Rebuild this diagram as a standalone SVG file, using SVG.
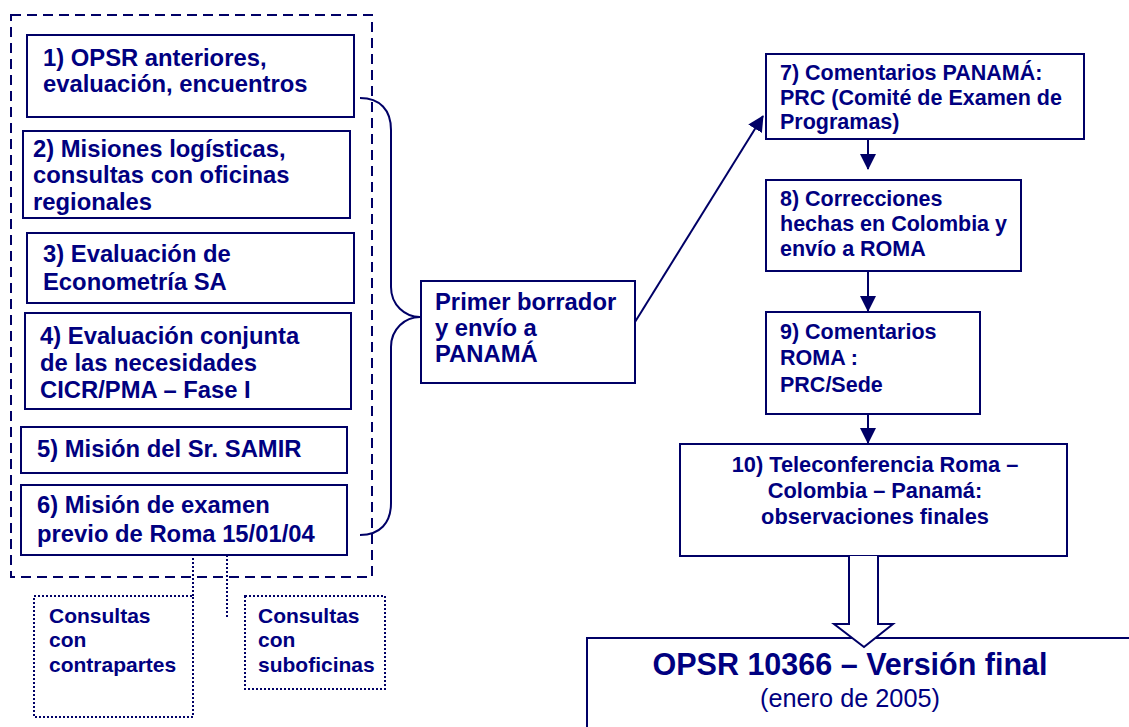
<svg xmlns="http://www.w3.org/2000/svg" width="1129" height="727" viewBox="0 0 1129 727">
<style>
.box{fill:#fff;stroke:#000066;stroke-width:2}
.dot{fill:none;stroke:#000066;stroke-width:2;stroke-dasharray:2 2}
.ln{fill:none;stroke:#000066;stroke-width:2}
text{font-family:"Liberation Sans",Arial,sans-serif;font-weight:bold;fill:#000080}
.l{font-size:23.8px}
.r{font-size:21.5px}
.t{font-size:21.8px}
.s{font-size:21px}
</style>
<defs>
<marker id="ad" markerWidth="16" markerHeight="16" refX="15" refY="8" orient="auto" markerUnits="userSpaceOnUse" viewBox="0 0 16 16">
<path d="M0,0 L16,8 L0,16 z" fill="#000066"/>
</marker>
</defs>
<rect width="1129" height="727" fill="#fff"/>
<rect id="group-frame" x="11" y="15" width="361" height="562" fill="none" stroke="#000066" stroke-width="2" stroke-dasharray="10 6"/>
<g id="connectors">
<path class="ln" d="M360,98 C380,98 391,110 391,130 L391,287 C391,305 405,317 420,317 C405,317 391,329 391,347 L391,503 C391,523 380,535 360,535"/>
<line class="ln" x1="635" y1="322" x2="763" y2="116" marker-end="url(#ad)"/>
<line class="ln" x1="868" y1="139" x2="868" y2="169" marker-end="url(#ad)"/>
<line class="ln" x1="868" y1="271" x2="868" y2="311" marker-end="url(#ad)"/>
<line class="ln" x1="868" y1="414" x2="868" y2="443" marker-end="url(#ad)"/>
<line class="dot" x1="193" y1="542" x2="193" y2="596"/>
<line class="dot" x1="227" y1="535" x2="227" y2="619"/>
</g>
<g id="n1"><rect class="box" x="27" y="35" width="327" height="82"/><text class="l" x="43" y="66">1) OPSR anteriores,</text><text class="l" x="43" y="92">evaluación, encuentros</text></g>
<g id="n2"><rect class="box" x="23" y="131" width="327" height="87"/><text class="l" x="33" y="157">2) Misiones logísticas,</text><text class="l" x="33" y="183">consultas con oficinas</text><text class="l" x="33" y="210">regionales</text></g>
<g id="n3"><rect class="box" x="27" y="233" width="327" height="70"/><text class="l" x="43" y="262">3) Evaluación de</text><text class="l" x="43" y="290">Econometría SA</text></g>
<g id="n4"><rect class="box" x="25" y="313" width="326" height="96"/><text class="l" x="40" y="344">4) Evaluación conjunta</text><text class="l" x="40" y="371">de las necesidades</text><text class="l" x="40" y="398">CICR/PMA – Fase I</text></g>
<g id="n5"><rect class="box" x="21" y="427" width="326" height="46"/><text class="l" x="37" y="457">5) Misión del Sr. SAMIR</text></g>
<g id="n6"><rect class="box" x="21" y="485" width="326" height="70"/><text class="l" x="37" y="513">6) Misión de examen</text><text class="l" x="37" y="542">previo de Roma 15/01/04</text></g>
<g id="c1"><rect class="dot" x="34" y="596" width="159" height="121"/><text class="s" x="49" y="623">Consultas</text><text class="s" x="49" y="647">con</text><text class="s" x="49" y="672">contrapartes</text></g>
<g id="c2"><rect class="dot" x="245" y="596" width="140" height="93"/><text class="s" x="258" y="623">Consultas</text><text class="s" x="258" y="647">con</text><text class="s" x="258" y="672">suboficinas</text></g>
<g id="primer"><rect class="box" x="421" y="281" width="214" height="102"/><text class="l" x="435" y="310">Primer borrador</text><text class="l" x="435" y="336">y envío a</text><text class="l" x="435" y="362">PANAMÁ</text></g>
<g id="n7"><rect class="box" x="766" y="54" width="318" height="85"/><text class="r" x="780" y="80">7) Comentarios PANAMÁ:</text><text class="r" x="780" y="105">PRC (Comité de Examen de</text><text class="r" x="780" y="129">Programas)</text></g>
<g id="n8"><rect class="box" x="766" y="180" width="255" height="91"/><text class="r" x="780" y="206">8) Correcciones</text><text class="r" x="780" y="231">hechas en Colombia y</text><text class="r" x="780" y="256">envío a ROMA</text></g>
<g id="n9"><rect class="box" x="766" y="312" width="214" height="102"/><text class="r" x="780" y="339">9) Comentarios</text><text class="r" x="780" y="365">ROMA :</text><text class="r" x="780" y="392">PRC/Sede</text></g>
<g id="n10"><rect class="box" x="680" y="444" width="387" height="112"/><text class="t" x="875" y="472" text-anchor="middle">10) Teleconferencia Roma –</text><text class="t" x="875" y="498" text-anchor="middle">Colombia – Panamá:</text><text class="t" x="875" y="524" text-anchor="middle">observaciones finales</text></g>
<g id="final"><rect class="box" x="587" y="638" width="560" height="100"/><text x="850" y="675" text-anchor="middle" style="font-size:30.5px">OPSR 10366 – Versión final</text><text x="850" y="707" text-anchor="middle" style="font-size:25.3px;font-weight:normal">(enero de 2005)</text></g>
<g id="block-arrow"><path d="M849,556 L849,624 L834,624 L864,647 L893,624 L878,624 L878,556" fill="#fff" stroke="#000066" stroke-width="2" stroke-linejoin="miter"/></g>
</svg>
